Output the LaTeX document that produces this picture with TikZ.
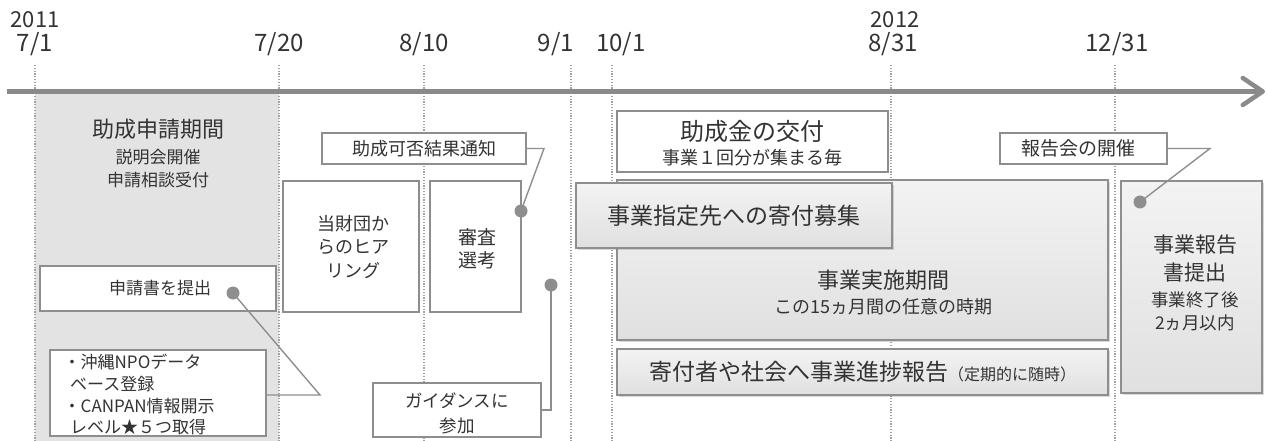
\documentclass[tikz,border=0pt]{standalone}
\usepackage{fontspec}
\setmainfont{Noto Sans CJK JP}
\usetikzlibrary{shadows,arrows.meta}
\definecolor{txt}{HTML}{333333}
\definecolor{bdr}{HTML}{8E8E8E}
\definecolor{dotc}{HTML}{A2A2A2}
\definecolor{zone}{HTML}{E3E3E3}
\definecolor{axisc}{HTML}{8A8A8A}
\definecolor{gtop}{HTML}{F3F3F3}
\definecolor{gbot}{HTML}{E0E0E0}
\begin{document}
\begin{tikzpicture}[x=1pt,y=-1pt,
  every node/.style={text=txt, inner sep=0pt},
  fs/.style={font=\fontsize{#1}{#1}\selectfont},
  fsl/.style 2 args={font=\fontsize{#1}{#2}\selectfont},
  wbox/.style={draw=bdr, line width=1.4pt, fill=white},
  gbox/.style={draw=bdr, line width=1.4pt, top color=gtop, bottom color=gbot,
    drop shadow={shadow xshift=1.5pt, shadow yshift=-2pt, opacity=0.3}},
  vline/.style={dotc, line width=1.3pt, dash pattern=on 1.2pt off 1.6pt},
  lead/.style={bdr, line width=1.4pt},
  pin/.style={circle, fill=bdr, minimum size=13pt},
  datelbl/.style={fs=24}]
\useasboundingbox (0,0) rectangle (1268,441);

% application period zone
\fill[zone] (35,94) rectangle (279,441);

% dotted guide lines
\foreach \xx in {35,279,424,571,612,891,1115}
  \draw[vline] (\xx,65) -- (\xx,441);

% time axis
\draw[axisc, line width=4.5pt, -{Straight Barb[length=20pt,width=27pt,round]}] (7,91.5) -- (1265,91.5);

% date labels
\node[fs=22] (y2011) at (35,20) {2011};
\node[datelbl] (d0701) at (35,44) {7/1};
\node[datelbl] (d0720) at (279,44) {7/20};
\node[datelbl] (d0810) at (424,44) {8/10};
\node[datelbl] (d0901) at (556,44) {9/1};
\node[datelbl] (d1001) at (621,44) {10/1};
\node[fs=22] (y2012) at (895,20) {2012};
\node[datelbl] (d0831) at (893,44) {8/31};
\node[datelbl] (d1231) at (1117,44) {12/31};

% zone texts
\node[fs=22] (zoneT) at (158,129) {助成申請期間};
\node[fs=17] (zoneA) at (158,157) {説明会開催};
\node[fs=17] (zoneB) at (158,180) {申請相談受付};

% boxes
\node[wbox, minimum width=236pt, minimum height=45pt, fs=17] (apply) at (158,288.5) {\hspace*{4pt}申請書を提出};
\node[wbox, minimum width=216pt, minimum height=86pt] (bullets) at (158,393) {};
\node[fs=17, anchor=west] (bl1) at (63.5,362) {・沖縄NPOデータ};
\node[fs=17, anchor=west] (bl2) at (70,384) {ベース登録};
\node[fs=17, anchor=west] (bl3) at (63.5,406) {・CANPAN情報開示};
\node[fs=17, anchor=west] (bl4) at (70,427) {レベル★５つ取得};

\node[wbox, minimum width=136pt, minimum height=131pt] (hearing) at (351,246.5) {};
\node[fsl={18}{23.5}, align=center] (hearingT) at (353,247) {当財団か\\らのヒア\\リング};
\node[wbox, minimum width=91pt, minimum height=131pt] (review) at (475.5,246.5) {};
\node[fsl={19}{23}, align=center] (reviewT) at (477,249) {審査\\選考};
\node[wbox, minimum width=204pt, minimum height=31pt, fs=18] (notify) at (424,148.5) {助成可否結果通知};
\node[wbox, minimum width=168pt, minimum height=54pt] (guide) at (457,410) {};
\node[fsl={17.5}{25}, align=center] (guideT) at (457,413) {ガイダンスに\\参加};

\node[wbox, minimum width=271pt, minimum height=61pt] (grant) at (752.5,141.5) {};
\node[fs=24] (grantT) at (752,131) {助成金の交付};
\node[fs=18] (grantS) at (752,158) {事業１回分が集まる毎};

\node[gbox, minimum width=491pt, minimum height=160pt] (impl) at (862.5,260) {};
\node[fs=22] (implT) at (883,280) {事業実施期間};
\node[fs=18] (implS) at (883,307) {この15ヵ月間の任意の時期};
\node[gbox, minimum width=316pt, minimum height=65pt, fs=23] (donate) at (734,215.5) {事業指定先への寄付募集};
\node[gbox, minimum width=491pt, minimum height=46pt, fs=23] (progress) at (862.5,372) {寄付者や社会へ事業進捗報告{\fontsize{16}{16}\selectfont（定期的に随時）}};

\node[wbox, minimum width=167pt, minimum height=31pt, fs=19] (meeting) at (1083.5,148.5) {\hspace*{-10pt}報告会の開催};
\node[gbox, minimum width=141pt, minimum height=212pt] (final) at (1191.5,287) {};
\node[fs=21] (finalA) at (1195,245) {事業報告};
\node[fs=21] (finalB) at (1195,273) {書提出};
\node[fs=17.5] (finalC) at (1195,300) {事業終了後};
\node[fs=17.5] (finalD) at (1195,323) {2ヵ月以内};

% pins
\coordinate (pinApplyC) at (233,293);
\coordinate (pinReviewC) at (521,211);
\coordinate (pinGuideC) at (551,285);
\coordinate (pinFinalC) at (1140,202);
\coordinate (bendA) at (320,395);
\coordinate (bendN) at (544,148.5);
\coordinate (bendG) at (551,410);
\coordinate (bendM) at (1210,148.5);

% leaders
\draw[lead] (pinApplyC) -- (bendA) -- (bendA -| bullets.east);
\draw[lead] (notify.east) -- (bendN) -- (pinReviewC);
\draw[lead] (pinGuideC) -- (bendG) -- (guide.east);
\draw[lead] (meeting.east) -- (bendM) -- (pinFinalC);

\node[pin] (pinApply) at (pinApplyC) {};
\node[pin] (pinReview) at (pinReviewC) {};
\node[pin] (pinGuide) at (pinGuideC) {};
\node[pin] (pinFinal) at (pinFinalC) {};
\end{tikzpicture}
\end{document}
